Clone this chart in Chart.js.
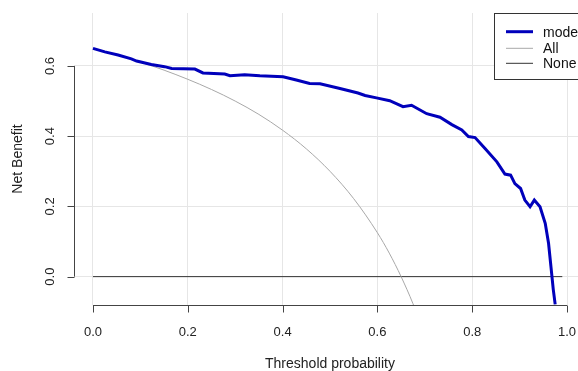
<!DOCTYPE html>
<html>
<head>
<meta charset="utf-8">
<script src="https://cdn.jsdelivr.net/npm/chart.js@4/dist/chart.umd.min.js"></script>
<style>
html,body{margin:0;padding:0;background:#fff;overflow:hidden;width:578px;height:371px;}
canvas{display:block;}
</style>
</head>
<body>
<canvas id="c" width="600" height="371"></canvas>
<script>
// ---- data ----
const modelThresholds = [0,0.025,0.053,0.081,0.092,0.123,0.151,0.166,0.215,0.232,0.278,0.289,0.320,0.352,0.401,0.429,0.457,0.479,0.521,0.559,0.574,0.598,0.626,0.654,0.672,0.704,0.732,0.757,0.778,0.792,0.806,0.827,0.852,0.869,0.881,0.890,0.902,0.911,0.922,0.931,0.943,0.954,0.961,0.966,0.971,0.975];
const modelNB = [0.650,0.640,0.631,0.620,0.614,0.604,0.598,0.593,0.591,0.580,0.577,0.572,0.575,0.572,0.569,0.560,0.550,0.549,0.536,0.523,0.516,0.509,0.501,0.484,0.488,0.464,0.454,0.433,0.418,0.399,0.396,0.365,0.327,0.292,0.289,0.265,0.251,0.218,0.199,0.218,0.199,0.152,0.095,0.029,-0.037,-0.079];
const allThresholds = [0,0.05,0.10,0.15,0.20,0.25,0.30,0.35,0.40,0.45,0.50,0.55,0.60,0.625,0.65,0.675,0.70];
const allNB = [0.650,0.632,0.611,0.588,0.562,0.533,0.500,0.462,0.417,0.364,0.300,0.222,0.125,0.067,0.000,-0.077,-0.167];
const noneThresholds = [0,0.99];
const noneNB = [0,0];
const xTicks = [0,0.2,0.4,0.6,0.8,1.0];
const yTicks = [0,0.2,0.4,0.6];
const xTickLabels = ["0.0","0.2","0.4","0.6","0.8","1.0"];
const yTickLabels = ["0.0","0.2","0.4","0.6"];
const seriesNames = ["mode","All","None"];
const xTitle = "Threshold probability";
const yTitle = "Net Benefit";

const toPts = (xs, ys) => xs.map((x,i)=>({x:x,y:ys[i]}));
const FONT = '13px "Liberation Sans", Arial, sans-serif';
const FONT_T = '14px "Liberation Sans", Arial, sans-serif';

const rAxes = {
  id:'rAxes',
  afterDraw(chart){
    const ctx = chart.ctx, xs = chart.scales.x, ys = chart.scales.y, ca = chart.chartArea;
    ctx.save();
    ctx.strokeStyle = '#444'; ctx.lineWidth = 1; ctx.fillStyle = '#222'; ctx.font = FONT;
    // x axis
    const yAx = Math.round(ca.bottom)+0.5;
    ctx.beginPath();
    ctx.moveTo(xs.getPixelForValue(xTicks[0]), yAx);
    ctx.lineTo(xs.getPixelForValue(xTicks[xTicks.length-1]), yAx);
    xTicks.forEach(v=>{const p=Math.round(xs.getPixelForValue(v))+0.5; ctx.moveTo(p,yAx); ctx.lineTo(p,yAx+7);});
    ctx.stroke();
    ctx.textAlign='center'; ctx.textBaseline='middle';
    xTicks.forEach((v,i)=>ctx.fillText(xTickLabels[i], xs.getPixelForValue(v), 332));
    ctx.font = FONT_T;
    ctx.fillText(xTitle, (ca.left+ca.right)/2, 364);
    ctx.font = FONT;
    // y axis
    const xAx = Math.round(ca.left)+0.5;
    ctx.beginPath();
    ctx.moveTo(xAx, ys.getPixelForValue(yTicks[0]));
    ctx.lineTo(xAx, ys.getPixelForValue(yTicks[yTicks.length-1]));
    yTicks.forEach(v=>{const p=Math.round(ys.getPixelForValue(v))+0.5; ctx.moveTo(xAx,p); ctx.lineTo(xAx-7,p);});
    ctx.stroke();
    yTicks.forEach((v,i)=>{
      ctx.save(); ctx.translate(50, ys.getPixelForValue(v)); ctx.rotate(-Math.PI/2);
      ctx.fillText(yTickLabels[i],0,0); ctx.restore();
    });
    ctx.font = FONT_T;
    ctx.save(); ctx.translate(18,(ca.top+ca.bottom)/2); ctx.rotate(-Math.PI/2);
    ctx.fillText(yTitle,0,0); ctx.restore();
    // legend
    const lx=494.5, ly=13.5, lw=120, lh=66;
    ctx.fillStyle='#fff'; ctx.fillRect(lx,ly,lw,lh);
    ctx.strokeStyle='#333'; ctx.strokeRect(lx,ly,lw,lh);
    const rows=[31.7,48.3,63.3];
    chart.data.datasets.forEach((ds,i)=>{
      ctx.strokeStyle=ds.borderColor; ctx.lineWidth=ds.borderWidth;
      ctx.beginPath(); ctx.moveTo(506,rows[i]); ctx.lineTo(533,rows[i]); ctx.stroke();
      ctx.fillStyle='#111'; ctx.textAlign='left'; ctx.textBaseline='middle';
      ctx.fillText(ds.label,543,rows[i]+1);
    });
    ctx.restore();
  }
};

new Chart(document.getElementById('c'), {
  type:'line',
  data:{datasets:[
    {label:seriesNames[0], data:toPts(modelThresholds,modelNB), borderColor:'#0000bb', borderWidth:3, pointRadius:0, tension:0},
    {label:seriesNames[1], data:toPts(allThresholds,allNB), borderColor:'#a8a8a8', borderWidth:1, pointRadius:0, cubicInterpolationMode:'monotone'},
    {label:seriesNames[2], data:toPts(noneThresholds,noneNB), borderColor:'#333333', borderWidth:1, pointRadius:0, tension:0}
  ]},
  options:{
    responsive:false, animation:false, devicePixelRatio:1,
    layout:{padding:{left:74,right:14,top:13,bottom:66}},
    plugins:{legend:{display:false},tooltip:{enabled:false}},
    scales:{
      x:{type:'linear', min:-0.04, max:1.04,
         afterBuildTicks:s=>{s.ticks=xTicks.map(v=>({value:v}));},
         ticks:{display:false}, border:{display:false},
         grid:{color:'#e6e6e6', lineWidth:1, drawTicks:false}},
      y:{type:'linear', min:-0.0808, max:0.7508,
         afterBuildTicks:s=>{s.ticks=yTicks.map(v=>({value:v}));},
         ticks:{display:false}, border:{display:false},
         grid:{color:'#e6e6e6', lineWidth:1, drawTicks:false}}
    }
  },
  plugins:[rAxes]
});
</script>
</body>
</html>
